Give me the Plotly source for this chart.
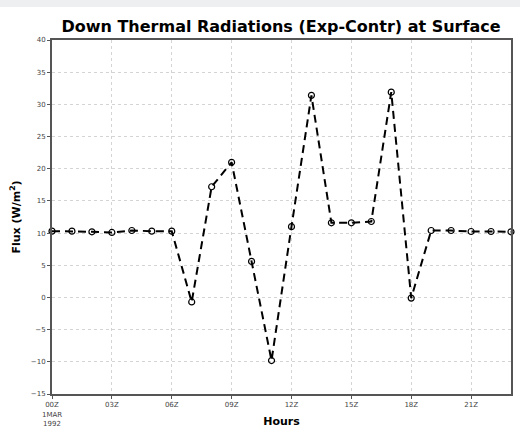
import plotly.graph_objects as go

hours = list(range(24))
flux = [10.3, 10.3, 10.2, 10.1, 10.4, 10.3, 10.3, -0.7, 17.2, 21.0, 5.6, -9.8,
        11.0, 31.4, 11.6, 11.6, 11.8, 31.9, -0.1, 10.4, 10.4, 10.25, 10.25, 10.2]

xtick_vals = [0, 3, 6, 9, 12, 15, 18, 21]
xtick_text = ["00Z<br>1MAR<br>1992", "03Z", "06Z", "09Z", "12Z", "15Z", "18Z", "21Z"]
ytick_vals = list(range(-15, 41, 5))

fig = go.Figure()
fig.add_trace(go.Scatter(
    x=hours, y=flux, mode="lines+markers",
    line=dict(color="black", width=2, dash="8px,5px"),
    marker=dict(symbol="circle-open", size=6, color="black", line=dict(width=1.2)),
    cliponaxis=False, showlegend=False,
))

axis_common = dict(
    showline=True, mirror=True, linecolor="#555555", linewidth=2,
    showgrid=True, gridcolor="#d4d4d4", griddash="dot", gridwidth=1,
    zeroline=False, ticks="outside", ticklen=3, tickcolor="#555555",
    tickfont=dict(family="DejaVu Sans", size=7, color="#444444"),
    automargin=False,
)

fig.update_layout(
    width=520, height=428,
    margin=dict(l=52, r=9, t=40, b=34, autoexpand=False),
    paper_bgcolor="white", plot_bgcolor="white",
    title=dict(text="<b>Down Thermal Radiations (Exp-Contr) at Surface</b>",
               x=281 / 520, xanchor="center", y=1 - 26 / 428, yanchor="middle",
               xref="container", yref="container",
               font=dict(family="DejaVu Sans", size=16, color="black")),
    xaxis=dict(range=[0, 23], tickvals=xtick_vals, ticktext=xtick_text,
               title=dict(text="<b>Hours</b>", standoff=0,
                          font=dict(family="DejaVu Sans", size=11, color="black")),
               **axis_common),
    yaxis=dict(range=[-15, 40], tickvals=ytick_vals,
               title=dict(text="<b>Flux (W/m<sup>2</sup>)</b>", standoff=8,
                          font=dict(family="DejaVu Sans", size=11, color="black")),
               **axis_common),
    shapes=[dict(type="rect", xref="paper", yref="paper", x0=-0.2, x1=1.1,
                 y0=1 + 33 / 354, y1=1 + 40 / 354, fillcolor="#eeeff1",
                 line=dict(width=0), layer="below")],
)

fig.write_html("out.html")
